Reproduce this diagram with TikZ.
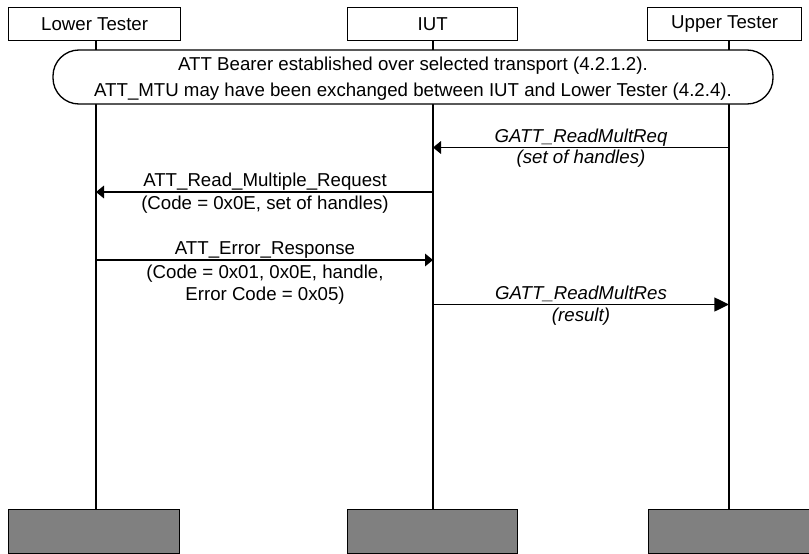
\documentclass[tikz,border=0pt]{standalone}
\usepackage{fontspec}
\setmainfont{Liberation Sans}
\usetikzlibrary{arrows.meta}
\begin{document}
\begin{tikzpicture}[x=0.75pt,y=-0.75pt,
  font=\fontsize{14pt}{17pt}\selectfont,
  box/.style={draw,line width=1pt,minimum height=33*0.75pt,inner sep=0pt,anchor=north west},
  endbox/.style={draw,line width=1pt,fill=black!50,minimum height=44*0.75pt,inner sep=0pt,anchor=north west},
  life/.style={line width=1.5pt},
  msg/.style={line width=1pt,-{Triangle[length=6pt,width=9.5pt]}},
  msgbig/.style={line width=1pt,-{Triangle[length=11pt,width=10.5pt]}},
  lbl/.style={inner sep=0pt,anchor=base},
  it/.style={lbl,font=\fontsize{14pt}{17pt}\selectfont\itshape}]
\useasboundingbox (0,0) rectangle (809,553);
% headers
\node[box,minimum width=172*0.75pt] (lt) at (8,7) {Lower Tester};
\node[box,minimum width=170*0.75pt] (iut) at (347,7) {IUT};
\node[box,minimum width=154*0.75pt] (ut) at (647,7) {Upper Tester};
% end boxes
\node[endbox,minimum width=171*0.75pt] (ltE) at (8,509) {};
\node[endbox,minimum width=170*0.75pt] (iutE) at (347,509) {};
\node[endbox,minimum width=161*0.75pt] (utE) at (648,509) {};
% lifelines
\coordinate (xl) at (96,0);
\coordinate (xi) at (433,0);
\coordinate (xu) at (729,0);
\draw[life] (lt.south -| xl) -- (ltE.north -| xl);
\draw[life] (iut.south -| xi) -- (iutE.north -| xi);
\draw[life] (ut.south -| xu) -- (utE.north -| xu);
% bearer pill
\node[draw,fill=white,line width=1pt,rounded corners=26*0.75pt,minimum width=720*0.75pt,minimum height=54*0.75pt,inner sep=0pt] (pill) at (413,77) {};
\node[lbl] (p1) at (413,70) {ATT Bearer established over selected transport (4.2.1.2).};
\node[lbl] (p2) at (413,96.5) {ATT\_MTU may have been exchanged between IUT and Lower Tester (4.2.4).};
% messages
\coordinate (u1) at (729,147.5); \coordinate (i1) at (433,147.5);
\draw[msg] (u1) -- (i1);
\node[it] (m1a) at (581,142.5) {GATT\_ReadMultReq};
\node[it] (m1b) at (581,163) {(set of handles)};

\coordinate (i2) at (433,192); \coordinate (l2) at (96,192);
\draw[msg] (i2) -- (l2);
\node[lbl] (m2a) at (265,186.5) {ATT\_Read\_Multiple\_Request};
\node[lbl] (m2b) at (265,209.5) {(Code = 0x0E, set of handles)};

\coordinate (l3) at (96,260); \coordinate (i3) at (433,260);
\draw[msg] (l3) -- (i3);
\node[lbl] (m3a) at (265,254.5) {ATT\_Error\_Response};
\node[lbl] (m3b) at (265,278) {(Code = 0x01, 0x0E, handle,};
\node[lbl] (m3c) at (265,300.5) {Error Code = 0x05)};

\coordinate (i4) at (433,304.5); \coordinate (u4) at (729,304.5);
\draw[msgbig] (i4) -- (u4);
\node[it] (m4a) at (581,299.5) {GATT\_ReadMultRes};
\node[it] (m4b) at (581,321.5) {(result)};
\end{tikzpicture}
\end{document}
